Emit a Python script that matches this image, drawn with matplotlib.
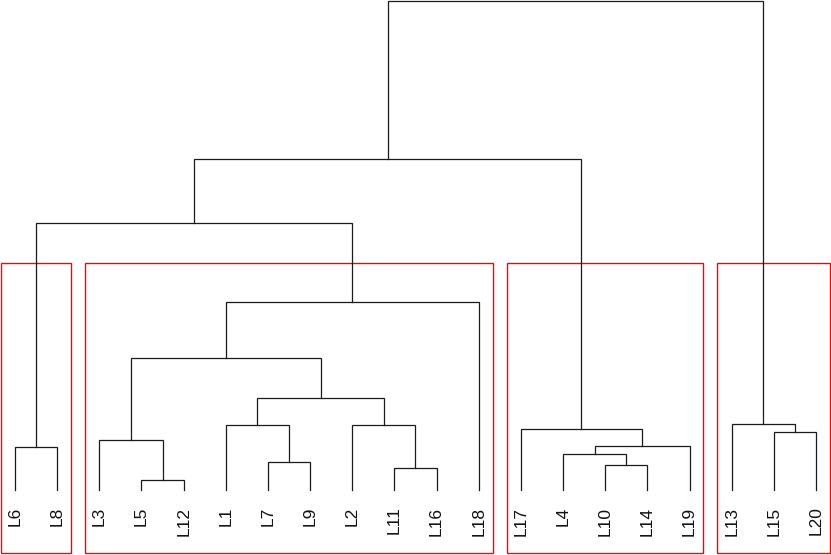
import numpy as np
from matplotlib import pyplot as plt
from matplotlib.patches import Rectangle

# Leaf labels in plotting order
labels = ["L6", "L8", "L3", "L5", "L12", "L1", "L7", "L9", "L2", "L11",
          "L16", "L18", "L17", "L4", "L10", "L14", "L19", "L13", "L15", "L20"]

# Merges, R style: negative = leaf (by label), positive = earlier merge (1-based)
merge_left = ["L5", "L11", "L10", "L7", "L4", "L6", 5, "L3", "L15", "L17",
              "L1", "L2", "L13", 11, 8, 15, 6, 17, 18]
merge_right = ["L12", "L16", "L14", "L9", 3, "L8", "L19", 1, "L20", 7,
               4, 2, 9, 12, 14, "L18", 16, 10, 13]
merge_height = [0.10, 0.22, 0.25, 0.28, 0.36, 0.43, 0.44, 0.50, 0.58, 0.61,
                0.65, 0.65, 0.66, 0.92, 1.32, 1.88, 2.67, 3.31, 4.89]

k_clusters = 4


def node_info(ref, xs, leaves):
    # x position and leaf list of a child reference
    if isinstance(ref, str):
        return labels.index(ref) + 1, 0.0, [labels.index(ref) + 1]
    return xs[ref - 1], merge_height[ref - 1], leaves[ref - 1]


fig = plt.figure(figsize=(8.31, 5.55), dpi=100)
ax = fig.add_axes([0, 0, 1, 1])
ax.set_xlim(0.644, 20.356)
ax.set_ylim(-0.65, 4.90)
ax.axis('off')

lw = 0.9
col = '#1a1a1a'
xs, leaves = [], []
for l, r, h in zip(merge_left, merge_right, merge_height):
    xl, hl, ll = node_info(l, xs, leaves)
    xr, hr, lr = node_info(r, xs, leaves)
    ax.plot([xl, xl, xr, xr], [hl, h, h, hr], color=col, lw=lw,
            solid_joinstyle='miter')
    xs.append((xl + xr) / 2)
    leaves.append(ll + lr)

# leaf labels
for i, lab in enumerate(labels):
    ax.text(i + 1, -0.165, lab, rotation=90, ha='center', va='top',
            fontsize=12.5, family='Liberation Sans', color='#111111')

# cut tree into k clusters (like rect.hclust)
groups = [len(merge_height)]
while len(groups) < k_clusters:
    top = max([g for g in groups if not isinstance(g, str)])
    groups.remove(top)
    groups += [merge_left[top - 1], merge_right[top - 1]]
hs = sorted(merge_height, reverse=True)
rect_top = (hs[k_clusters - 2] + hs[k_clusters - 1]) / 2
bottom = -0.63
for g in groups:
    if isinstance(g, str):
        members = [labels.index(g) + 1]
    else:
        members = leaves[g - 1]
    x0 = min(members) - 0.34
    x1 = max(members) + 0.33
    ax.add_patch(Rectangle((x0, bottom), x1 - x0, rect_top - bottom,
                           fill=False, edgecolor='#ff0000', lw=1.0))

fig.savefig('out.png', dpi=100)
